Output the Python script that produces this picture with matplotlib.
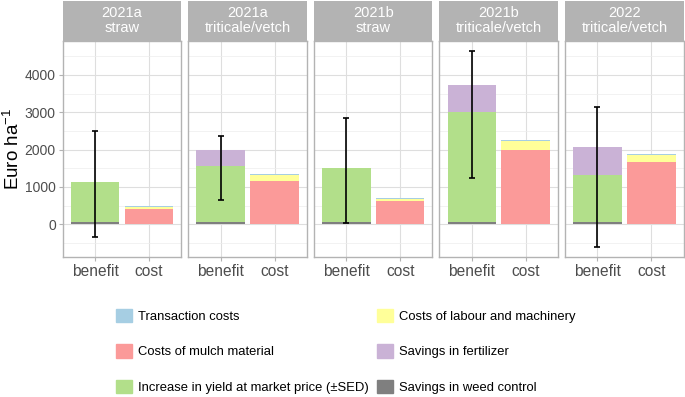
import matplotlib
matplotlib.use("Agg")
import matplotlib.pyplot as plt
from matplotlib.patches import Patch
import numpy as np

plt.rcParams['font.family'] = ['Liberation Sans', 'DejaVu Sans']
plt.rcParams['mathtext.default'] = 'regular'

# data (Euro per ha)
panels = ['2021a\nstraw', '2021a\ntriticale/vetch', '2021b\nstraw',
          '2021b\ntriticale/vetch', '2022\ntriticale/vetch']
categories = ['benefit', 'cost']
weed_control = [65, 65, 65, 65, 65]
yield_increase = [1075, 1500, 1440, 2935, 1260]
sed = [1417, 855, 1398, 1709, 1876]
fertilizer = [0, 416, 0, 735, 743]
mulch = [406, 1158, 611, 1981, 1663]
labour = [62, 151, 69, 240, 186]
transaction = [26, 27, 18, 27, 37]

# colours
col_trans = '#A6CEE3'
col_mulch = '#FB9A99'
col_yield = '#B2DF8A'
col_labour = '#FFFF99'
col_fert = '#CAB2D6'
col_weed = '#7F7F7F'
border_col = '#B3B3B3'
major_col = '#DEDEDE'
minor_col = '#EDEDED'
tick_txt = '#4D4D4D'

W, H = 685, 397
fig = plt.figure(figsize=(W / 100, H / 100), dpi=100)

def rect(x, y, w, h):
    return [x / W, 1 - (y + h) / H, w / W, h / H]

err_lo = np.array(yield_increase) - np.array(sed)
err_hi = np.array(yield_increase) + np.array(sed)
lo, hi = err_lo.min(), err_hi.max()
pad = 0.05 * (hi - lo)

x0, step, pw = 62.7, 125.6, 118.6
ptop, pbot = 41, 257
axes = []
for i, name in enumerate(panels):
    ax = fig.add_axes(rect(x0 + i * step, ptop, pw, pbot - ptop))
    axes.append(ax)
    xb, xc = 1, 2
    # benefit stack
    ax.bar(xb, weed_control[i], width=0.9, color=col_weed, zorder=3)
    ax.bar(xb, yield_increase[i], bottom=weed_control[i], width=0.9, color=col_yield, zorder=3)
    ax.bar(xb, fertilizer[i], bottom=weed_control[i] + yield_increase[i], width=0.9,
           color=col_fert, zorder=3)
    # cost stack
    ax.bar(xc, mulch[i], width=0.9, color=col_mulch, zorder=3)
    ax.bar(xc, labour[i], bottom=mulch[i], width=0.9, color=col_labour, zorder=3)
    ax.bar(xc, transaction[i], bottom=mulch[i] + labour[i], width=0.9, color=col_trans, zorder=3)
    ax.errorbar(xb, yield_increase[i], yerr=sed[i], fmt='none', ecolor='black',
                elinewidth=1.2, capsize=2.5, capthick=1.2, zorder=4)

    ax.set_xlim(0.4, 2.6)
    ax.set_ylim(lo - pad, hi + pad)
    ax.set_yticks([0, 1000, 2000, 3000, 4000])
    ax.set_yticks([-500, 500, 1500, 2500, 3500, 4500], minor=True)
    ax.set_xticks([1, 2])
    ax.set_xticklabels(categories, fontsize=11.2, color=tick_txt)
    ax.grid(which='major', color=major_col, linewidth=0.8, zorder=0)
    ax.grid(which='minor', axis='y', color=minor_col, linewidth=0.5, zorder=0)
    ax.set_axisbelow(True)
    for s in ax.spines.values():
        s.set_color(border_col)
        s.set_linewidth(1.0)
    ax.tick_params(which='major', color=border_col, length=3, width=0.8, pad=2)
    ax.tick_params(which='minor', length=0)
    if i == 0:
        ax.set_yticklabels(['0', '1000', '2000', '3000', '4000'], fontsize=10, color=tick_txt)
        ax.set_ylabel('Euro ha$^{-1}$', fontsize=13.5, va='center')
        ax.yaxis.set_label_coords(-0.42, 0.5)
    else:
        ax.tick_params(axis='y', which='both', left=False, labelleft=False)

    # facet strip
    sax = fig.add_axes(rect(x0 + i * step, 0.5, pw, ptop - 0.5))
    sax.set_facecolor(border_col)
    sax.set_xticks([])
    sax.set_yticks([])
    for s in sax.spines.values():
        s.set_visible(False)
    sax.text(0.5, 0.5, name, ha='center', va='center', color='white', fontsize=10.5,
             linespacing=1.05, transform=sax.transAxes)

handles = [Patch(color=col_trans, label='Transaction costs'),
           Patch(color=col_mulch, label='Costs of mulch material'),
           Patch(color=col_yield, label='Increase in yield at market price (±SED)'),
           Patch(color=col_labour, label='Costs of labour and machinery'),
           Patch(color=col_fert, label='Savings in fertilizer'),
           Patch(color=col_weed, label='Savings in weed control')]
fig.legend(handles=handles, ncol=2, frameon=False, fontsize=9.4,
           loc='upper left', bbox_to_anchor=(115.7 / W, 1 - 308.7 / H),
           borderaxespad=0, borderpad=0, handlelength=1.22, handleheight=1.22,
           handletextpad=0.5, labelspacing=1.64, columnspacing=0.6)

fig.savefig('out.png', dpi=100)
